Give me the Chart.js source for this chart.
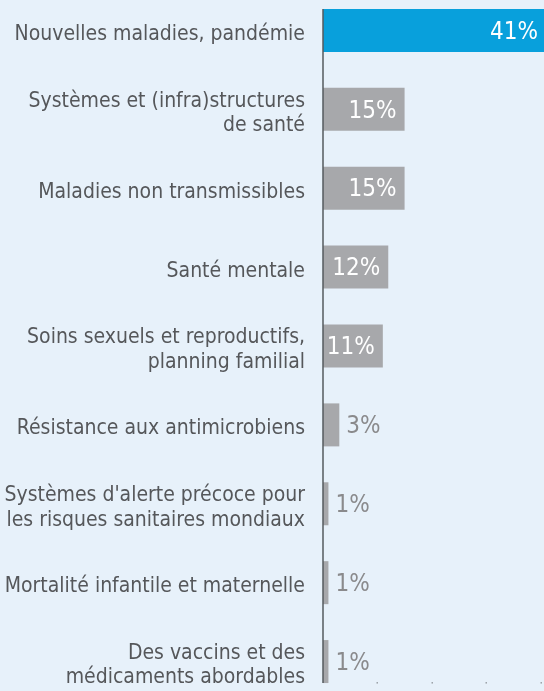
<!DOCTYPE html>
<html>
<head>
<meta charset="utf-8">
<script src="https://cdn.jsdelivr.net/npm/chart.js@4.4.1/dist/chart.umd.min.js"></script>
<style>
  html, body { margin:0; padding:0; background:#e7f1fa; overflow:hidden; width:544px; height:691px; }
  #wrap { position:absolute; left:0; top:-9px; width:546px; height:710px; }
</style>
</head>
<body>
<div id="wrap"><canvas id="c"></canvas></div>
<script>
const categories = [
  ["Nouvelles maladies, pandémie"],
  ["Systèmes et (infra)structures", "de santé"],
  ["Maladies non transmissibles"],
  ["Santé mentale"],
  ["Soins sexuels et reproductifs,", "planning familial"],
  ["Résistance aux antimicrobiens"],
  ["Systèmes d'alerte précoce pour", "les risques sanitaires mondiaux"],
  ["Mortalité infantile et maternelle"],
  ["Des vaccins et des", "médicaments abordables"]
];
const values = [41, 15, 15, 12, 11, 3, 1, 1, 1];
const xTicks = [0, 10, 20, 30, 40];

const FONT = '"DejaVu Sans Condensed", "Liberation Sans Narrow", "DejaVu Sans", sans-serif';

const valueLabels = {
  id: 'valueLabels',
  afterDatasetsDraw(chart) {
    const ctx = chart.ctx;
    const meta = chart.getDatasetMeta(0);
    ctx.save();
    ctx.font = '24px ' + FONT;
    ctx.textBaseline = 'middle';
    meta.data.forEach((bar, i) => {
      const v = values[i];
      const t = v + '%';
      if (v >= 10) {
        ctx.fillStyle = '#ffffff';
        ctx.textAlign = 'right';
        ctx.fillText(t, bar.x - 8, bar.y + 2);
      } else {
        ctx.fillStyle = '#8a8a8c';
        ctx.textAlign = 'left';
        ctx.fillText(t, bar.x + 7, bar.y + 2);
      }
    });
    ctx.restore();
  }
};

const axisLine = {
  id: 'axisLine',
  afterDraw(chart) {
    const ctx = chart.ctx;
    const meta = chart.getDatasetMeta(0);
    const first = meta.data[0], last = meta.data[meta.data.length - 1];
    const top = first.y - first.height / 2;
    const bottom = last.y + last.height / 2;
    const xs = chart.scales.x;
    ctx.save();
    ctx.strokeStyle = '#555a5e';
    ctx.lineWidth = 1.5;
    ctx.beginPath();
    ctx.moveTo(xs.left, top);
    ctx.lineTo(xs.left, bottom);
    ctx.stroke();
    ctx.fillStyle = '#9aa0a6';
    xTicks.slice(1).forEach(v => {
      const px = xs.getPixelForValue(v);
      ctx.fillRect(Math.round(px) - 0.5, bottom - 1, 1.5, 1.5);
    });
    ctx.restore();
  }
};

new Chart(document.getElementById('c'), {
  type: 'bar',
  data: {
    labels: categories,
    datasets: [{
      data: values,
      backgroundColor: (ctx) => ctx.dataIndex === 0 ? '#08a0dc' : '#a7a8ab',
      borderWidth: 0,
      barPercentage: 0.545,
      categoryPercentage: 1.0
    }]
  },
  options: {
    indexAxis: 'y',
    responsive: true,
    maintainAspectRatio: false,
    animation: false,
    layout: { padding: 0 },
    plugins: { legend: { display: false }, tooltip: { enabled: false } },
    scales: {
      x: {
        display: false,
        min: 0,
        max: 41,
        ticks: { stepSize: 10 }
      },
      y: {
        grid: { display: false, drawTicks: false },
        border: { display: false },
        ticks: {
          color: '#55575a',
          padding: 18,
          labelOffset: 4,
          font: { family: FONT, size: 21, lineHeight: 1.17 }
        },
        afterFit(scale) {
          scale.width = 323;
          scale.paddingTop = 0;
          scale.paddingBottom = 0;
        }
      }
    }
  },
  plugins: [valueLabels, axisLine]
});
</script>
</body>
</html>
